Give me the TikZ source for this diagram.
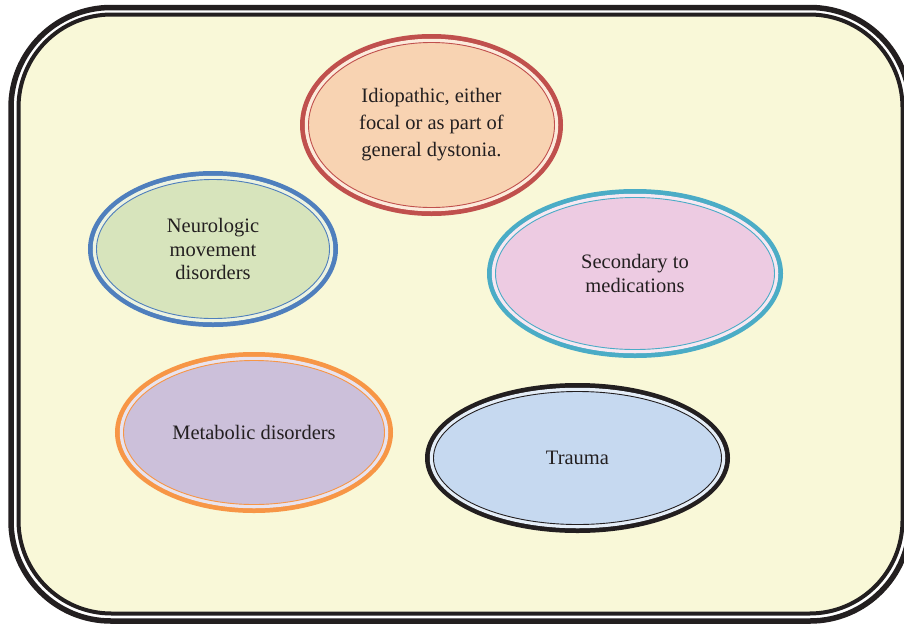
\documentclass[tikz,border=0pt]{standalone}
\usepackage{fontspec}
\setmainfont{Liberation Serif}
\usetikzlibrary{shapes.geometric}

\definecolor{inkdark}{RGB}{35,31,32}
\definecolor{paper}{RGB}{249,248,216}
\definecolor{idioline}{RGB}{192,80,77}
\definecolor{idiofill}{RGB}{248,211,178}
\definecolor{neuroline}{RGB}{79,127,189}
\definecolor{neurofill}{RGB}{215,228,188}
\definecolor{secline}{RGB}{75,172,198}
\definecolor{secfill}{RGB}{237,203,226}
\definecolor{metaline}{RGB}{247,150,70}
\definecolor{metafill}{RGB}{204,192,218}
\definecolor{traumafill}{RGB}{198,217,240}

\begin{document}
\begin{tikzpicture}[x=1pt, y=-1pt,
        every node/.style = {shape=ellipse, line width=5pt,
                             align=center, text=inkdark,
                             font=\fontsize{20.5}{23.5}\selectfont},
        ring/.style = {line width=0.9pt},
        band/.style = {line width=3.5pt}]
    \useasboundingbox (0,0) rectangle (904,627);

    % frame
    \draw[inkdark, line width=5.5pt, rounded corners=100] (11,7.5) rectangle (910,621);
    \filldraw[draw=inkdark, fill=paper, line width=4pt, rounded corners=93]
        (18.5,14.5) rectangle (902.5,613.5);

    \node[draw=idioline, fill=idiofill, minimum width=258, minimum height=177,
          font=\fontsize{20.5}{27}\selectfont] (idio) at (431.5,125)
          {Idiopathic, either\\focal or as part of\\general dystonia.};
    \draw[idiofill!45!white, band] (idio.center) ellipse (125 and 84.5);
    \draw[idioline, ring] (idio.center) ellipse (123 and 82.5);

    \node[draw=neuroline, fill=neurofill, minimum width=245, minimum height=151]
          (neuro) at (213,249) {Neurologic\\movement\\disorders};
    \draw[neurofill!45!white, band] (neuro.center) ellipse (118.5 and 71.5);
    \draw[neuroline, ring] (neuro.center) ellipse (116.5 and 69.5);

    \node[draw=secline, fill=secfill, minimum width=291, minimum height=164]
          (sec) at (635,273.5) {Secondary to\\medications};
    \draw[secfill!45!white, band] (sec.center) ellipse (141.5 and 78);
    \draw[secline, ring] (sec.center) ellipse (139.5 and 76);

    \node[draw=metaline, fill=metafill, minimum width=273, minimum height=156]
          (meta) at (254,432.5) {Metabolic disorders};
    \draw[metafill!45!white, band] (meta.center) ellipse (132.5 and 74);
    \draw[metaline, ring] (meta.center) ellipse (130.5 and 72);

    \node[draw=inkdark, fill=traumafill, minimum width=300, minimum height=145]
          (trauma) at (577.5,458) {Trauma};
    \draw[traumafill!45!white, band] (trauma.center) ellipse (146 and 68.5);
    \draw[inkdark, ring] (trauma.center) ellipse (144 and 66.5);

\end{tikzpicture}
\end{document}
